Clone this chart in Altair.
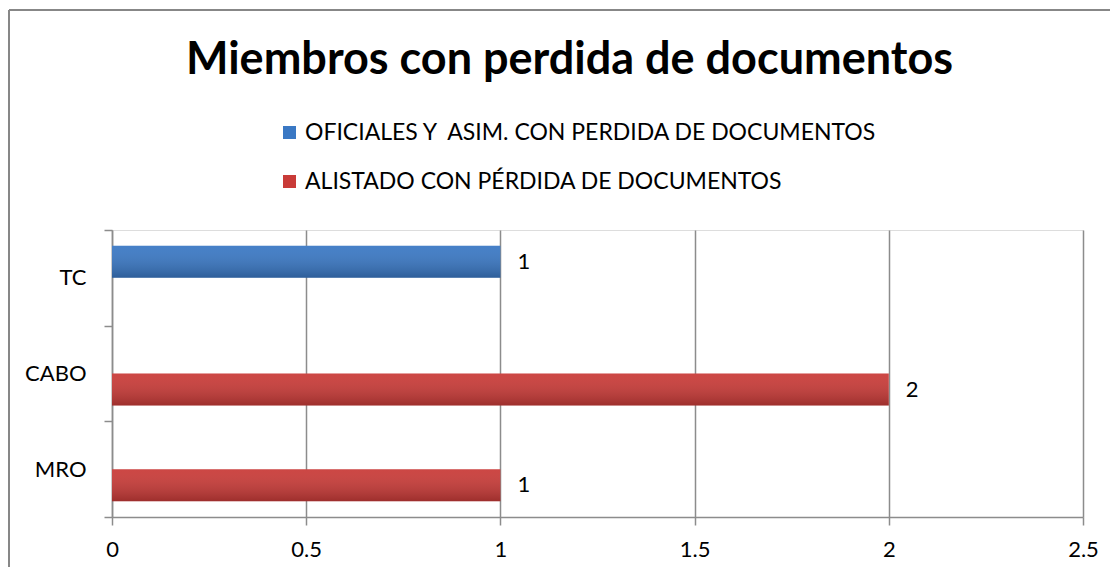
import altair as alt
import pandas as pd

categories = ["TC", "CABO", "MRO"]
series_names = ["OFICIALES Y \u00a0ASIM. CON PERDIDA DE DOCUMENTOS", "ALISTADO CON PÉRDIDA DE DOCUMENTOS"]
series_colors = ["#3a78c4", "#c93b38"]
bar_cat = ["TC", "CABO", "MRO"]
bar_series = [series_names[0], series_names[1], series_names[1]]
bar_values = [1, 2, 1]
x_ticks = [0, 0.5, 1, 1.5, 2, 2.5]
title_text = "Miembros con perdida de documentos"

df = pd.DataFrame({"cat": bar_cat, "series": bar_series, "value": bar_values})

FONT = "Lato"
GRID = "#8c8c8c"

W, H = 971, 287

y_enc = alt.Y("cat:N", sort=categories,
              scale=alt.Scale(domain=categories, paddingInner=0, paddingOuter=0),
              axis=alt.Axis(title=None, tickBand="extent", ticks=True, tickSize=8,
                            tickColor=GRID, domainColor=GRID, domainWidth=1.5, tickWidth=1.5,
                            labelFontSize=22, labelFont=FONT, labelColor="#000000",
                            labelPadding=18, grid=False))
yoff_enc = alt.YOffset("series:N", sort=series_names,
                       scale=alt.Scale(domain=series_names, paddingInner=0, paddingOuter=0.49))
x_enc = alt.X("value:Q",
              scale=alt.Scale(domain=[0, 2.5], nice=False, zero=True),
              axis=alt.Axis(title=None, values=x_ticks, labelExpr="'' + datum.value",
                            grid=True, gridColor=GRID, gridWidth=1.5, labelFlush=False,
                            domainColor=GRID, domainWidth=1.5, tickColor=GRID, tickWidth=1.5,
                            tickSize=8, labelFontSize=22, labelFont=FONT, labelColor="#000000",
                            labelPadding=14))

base = alt.Chart(df)

bars = base.mark_bar().encode(
    x=x_enc, y=y_enc, yOffset=yoff_enc,
    color=alt.Color("series:N", sort=series_names,
                    scale=alt.Scale(domain=series_names, range=series_colors),
                    legend=alt.Legend(title=None, orient="none", legendX=166, legendY=-109,
                                      direction="vertical", symbolType="square",
                                      symbolSize=169, symbolStrokeWidth=0,
                                      labelFontSize=23, labelFont=FONT, labelColor="#000000",
                                      labelOffset=4, rowPadding=25, labelLimit=800)),
)

grad = alt.LinearGradient(
    gradient="linear", x1=0, y1=0, x2=0, y2=1,
    stops=[alt.GradientStop(color="rgba(255,255,255,0.06)", offset=0),
           alt.GradientStop(color="rgba(0,0,0,0.22)", offset=1)],
)
shade = base.mark_bar(fill=grad).encode(
    x="value:Q", y=alt.Y("cat:N", sort=categories),
    yOffset=alt.YOffset("series:N", sort=series_names))

labels = base.mark_text(align="left", baseline="middle", dx=17, fontSize=22, font=FONT,
                        color="#000000").encode(
    x="value:Q", y=alt.Y("cat:N", sort=categories),
    yOffset=alt.YOffset("series:N", sort=series_names),
    text="value:Q",
)

border_left = alt.Chart(df).mark_rule(color="#878787", strokeWidth=2).encode(
    x=alt.value(-103), y=alt.value(-220), y2=alt.value(H + 60))
border_top = alt.Chart(df).mark_rule(color="#878787", strokeWidth=2).encode(
    x=alt.value(-103), x2=alt.value(W + 30), y=alt.value(-220))

chart = alt.layer(bars, shade, labels, border_left, border_top).properties(
    width=W, height=H,
    title=alt.TitleParams(title_text, fontSize=45, font=FONT, fontWeight="bold",
                          color="#000000", anchor="middle", dx=-28, offset=0, dy=110,
                          baseline="alphabetic"),
    autosize=alt.AutoSizeParams(type="none"),
    padding={"left": 104, "top": 222, "right": 27, "bottom": 50},
).configure_view(stroke=None).configure(background="#ffffff")

chart.save("out.html", embed_options={"renderer": "svg", "actions": False})
